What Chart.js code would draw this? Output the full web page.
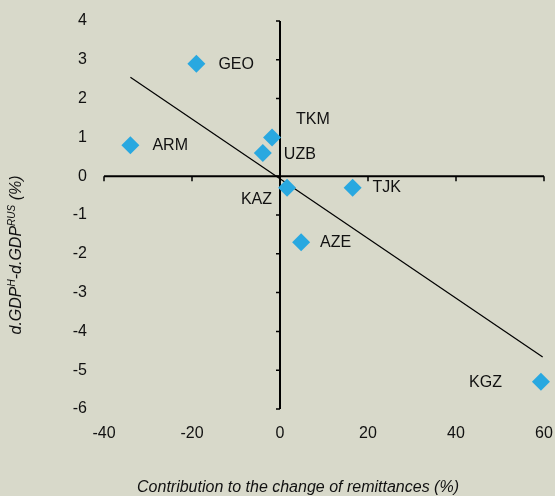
<!DOCTYPE html>
<html>
<head>
<meta charset="utf-8">
<script src="https://cdn.jsdelivr.net/npm/chart.js@4"></script>
<style>
  html, body { margin: 0; padding: 0; background: #d8d9ca; }
  #wrap { width: 555px; height: 496px; }
</style>
</head>
<body>
<div id="wrap"><canvas id="remitChart" width="555" height="496"></canvas></div>
<script>
// values
const countries = ['GEO', 'ARM', 'TKM', 'UZB', 'KAZ', 'TJK', 'AZE', 'KGZ'];
const remitContribution = [-19, -34, -1.8, -3.9, 1.6, 16.5, 4.8, 59.3];
const gdpGap = [2.9, 0.8, 1.0, 0.6, -0.3, -0.3, -1.7, -5.3];
const trendX = [-34, 59.7];
const trendY = [2.55, -4.66];
const xTicks = [-40, -20, 0, 20, 40, 60];
const yTicks = [-6, -5, -4, -3, -2, -1, 0, 1, 2, 3, 4];

const xTitle = 'Contribution to the change of remittances (%)';
// y title pieces, second value marks superscript
const yTitleParts = [['d.GDP', false], ['H', true], ['-d.GDP', false], ['RUS', true], [' (%)', false]];

// label placement next to each marker: dx, dy, align
const labelPos = {
    GEO: [22, 1, 'left'],
    ARM: [22, 0, 'left'],
    TKM: [24, -18, 'left'],
    UZB: [21, 2, 'left'],
    KAZ: [-15, 12, 'right'],
    TJK: [20, 0, 'left'],
    AZE: [19, 0, 'left'],
    KGZ: [-39, 1, 'right']
};

const FONT = '"Liberation Sans", Arial, sans-serif';
const BG = '#d8d9ca';

const points = countries.map((c, i) => ({ x: remitContribution[i], y: gdpGap[i] }));
const trend = trendX.map((x, i) => ({ x: x, y: trendY[i] }));

const backgroundPlugin = {
    id: 'bg',
    beforeDraw(chart) {
        const ctx = chart.ctx;
        ctx.save();
        ctx.fillStyle = BG;
        ctx.fillRect(0, 0, chart.width, chart.height);
        ctx.restore();
    }
};

// axes cross at zero, like the original
const zeroAxesPlugin = {
    id: 'zeroAxes',
    beforeDatasetsDraw(chart) {
        const { ctx, scales: { x, y } } = chart;
        const x0 = x.getPixelForValue(0);
        const y0 = y.getPixelForValue(0);
        ctx.save();
        ctx.strokeStyle = '#000';
        ctx.lineWidth = 2;
        ctx.beginPath();
        ctx.moveTo(x.getPixelForValue(xTicks[0]), y0);
        ctx.lineTo(x.getPixelForValue(xTicks[xTicks.length - 1]), y0);
        ctx.moveTo(x0, y.getPixelForValue(yTicks[0]));
        ctx.lineTo(x0, y.getPixelForValue(yTicks[yTicks.length - 1]));
        ctx.stroke();
        ctx.lineWidth = 1.5;
        ctx.beginPath();
        xTicks.forEach(v => {
            const px = x.getPixelForValue(v);
            ctx.moveTo(px, y0);
            ctx.lineTo(px, y0 + 5);
        });
        yTicks.forEach(v => {
            const py = y.getPixelForValue(v);
            ctx.moveTo(x0, py);
            ctx.lineTo(x0 - 4, py);
        });
        ctx.stroke();
        ctx.restore();
    }
};

const labelsPlugin = {
    id: 'pointLabels',
    afterDatasetsDraw(chart) {
        const ctx = chart.ctx;
        const meta = chart.getDatasetMeta(0);
        ctx.save();
        ctx.font = '16px ' + FONT;
        ctx.fillStyle = '#111';
        ctx.textBaseline = 'middle';
        meta.data.forEach((pt, i) => {
            const p = labelPos[countries[i]];
            ctx.textAlign = p[2];
            ctx.fillText(countries[i], pt.x + p[0], pt.y + p[1]);
        });
        ctx.restore();
    }
};

const titlesPlugin = {
    id: 'axisTitles',
    afterDraw(chart) {
        const ctx = chart.ctx;
        ctx.save();
        ctx.fillStyle = '#111';
        ctx.font = 'italic 16px ' + FONT;
        ctx.textAlign = 'center';
        ctx.textBaseline = 'middle';
        ctx.fillText(xTitle, 298, 488);

        // rotated y title with superscripts
        const big = 'italic 16px ' + FONT;
        const small = 'italic 10px ' + FONT;
        let total = 0;
        yTitleParts.forEach(([t, sup]) => {
            ctx.font = sup ? small : big;
            total += ctx.measureText(t).width;
        });
        ctx.translate(17, 255);
        ctx.rotate(-Math.PI / 2);
        ctx.textAlign = 'left';
        let cx = -total / 2;
        yTitleParts.forEach(([t, sup]) => {
            ctx.font = sup ? small : big;
            ctx.fillText(t, cx, sup ? -5 : 0);
            cx += ctx.measureText(t).width;
        });
        ctx.restore();
    }
};

new Chart(document.getElementById('remitChart'), {
    type: 'scatter',
    data: {
        datasets: [{
            label: 'Countries',
            data: points,
            pointStyle: 'rectRot',
            pointRadius: 9,
            pointHoverRadius: 9,
            backgroundColor: '#29a8e0',
            borderColor: '#29a8e0',
            borderWidth: 0,
            clip: false,
            order: 0
        }, {
            type: 'line',
            label: 'Trend',
            data: trend,
            borderColor: '#000',
            borderWidth: 1.2,
            pointRadius: 0,
            fill: false,
            clip: false,
            order: 1
        }]
    },
    options: {
        responsive: false,
        animation: false,
        layout: { padding: { left: 0, right: 11, top: 21, bottom: 0 } },
        plugins: {
            legend: { display: false },
            tooltip: { enabled: false }
        },
        scales: {
            x: {
                type: 'linear',
                min: -40,
                max: 60,
                afterBuildTicks: axis => { axis.ticks = xTicks.map(v => ({ value: v })); },
                afterFit: axis => {
                    axis.height = 87;
                    axis.paddingLeft = 0;
                    axis.paddingRight = 0;
                },
                ticks: { color: '#111', font: { family: FONT, size: 16 }, padding: 15, maxRotation: 0 },
                grid: { display: false, drawTicks: false },
                border: { display: false }
            },
            y: {
                type: 'linear',
                min: -6,
                max: 4,
                afterBuildTicks: axis => { axis.ticks = yTicks.map(v => ({ value: v })); },
                afterFit: axis => {
                    axis.width = 104;
                    axis.paddingTop = 0;
                    axis.paddingBottom = 0;
                },
                ticks: { color: '#111', font: { family: FONT, size: 16 }, padding: 17 },
                grid: { display: false, drawTicks: false },
                border: { display: false }
            }
        }
    },
    plugins: [backgroundPlugin, zeroAxesPlugin, labelsPlugin, titlesPlugin]
});
</script>
</body>
</html>
